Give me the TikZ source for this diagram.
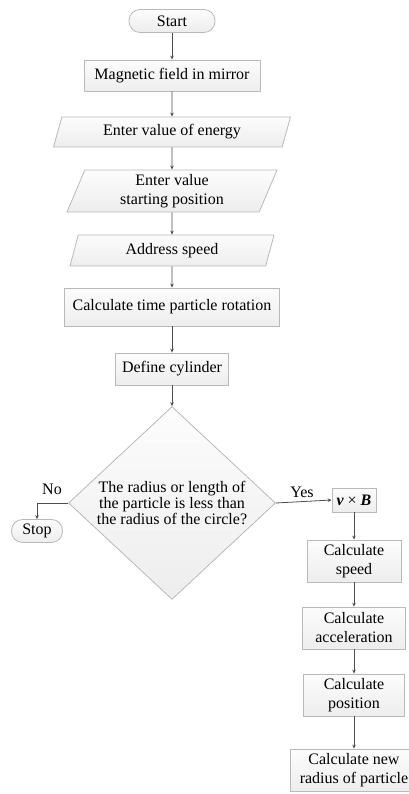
\documentclass[tikz,border=0pt]{standalone}
\usepackage{fontspec}
\setmainfont{Liberation Serif}
\usepackage{tikz}
\usetikzlibrary{shapes,arrows.meta,positioning,calc}

\begin{document}
\begin{tikzpicture}[x=1pt,y=-1pt,
    box/.style={rectangle,draw=gray!55,line width=0.8pt,top color=gray!2,bottom color=gray!14,align=center,inner sep=1pt,font=\fontsize{16}{19}\selectfont},
    term/.style={box,rounded corners=11pt},
    io/.style={box,trapezium,trapezium left angle=63.4,trapezium right angle=116.6,trapezium stretches body},
    cond/.style={box,diamond,inner sep=0pt,font=\fontsize{16}{14.5}\selectfont},
    flow/.style={-{Stealth[length=4pt,width=3.5pt]},line width=0.8pt,draw=gray!60!black},
    lbl/.style={inner sep=0pt,font=\fontsize{16}{19}\selectfont}]
    \useasboundingbox (0,0) rectangle (409,794);

    % Main column
    \node[term,minimum width=86,minimum height=23] (start) at (172,21) {Start};
    \node[box,minimum width=176,minimum height=31] (field) at (172,75.5) {Magnetic field in mirror};
    \node[io,minimum width=237,minimum height=30] (energy) at (172,132) {Enter value of energy};
    \node[io,minimum width=210,minimum height=42] (startpos) at (172,191) {Enter value\\starting position};
    \node[io,minimum width=204,minimum height=31] (speedin) at (172,250.5) {Address speed};
    \node[box,minimum width=215,minimum height=38] (rotation) at (172,307) {Calculate time particle rotation};
    \node[box,minimum width=113,minimum height=32] (cylinder) at (172,369) {Define cylinder};
    \node[cond,minimum width=207,minimum height=180] (check) at (172,503) {The radius or length of\\the particle is less than\\the radius of the circle?};

    % Branches
    \node[term,minimum width=51,minimum height=23] (stop) at (37,531) {Stop};
    \node[box,minimum width=44,minimum height=24] (vxb) at (354,500) {{\bfseries\itshape v} × {\bfseries\itshape B}};
    \node[lbl] (no) at (52,489) {No};
    \node[lbl] (yes) at (302,492) {Yes};

    % Calculation column
    \foreach \name/\y/\w/\txt in {speed/561/94/{Calculate\\speed},accel/628/103/{Calculate\\acceleration},pos/695/101/{Calculate\\position},radius/770/128/{Calculate new\\radius of particle}} {
        \node[box,minimum width=\w,minimum height=42] (\name) at (354,\y) {\txt};
    }

    % Connections
    \foreach \a/\b in {start/field,field/energy,energy/startpos,startpos/speedin,speedin/rotation,rotation/cylinder,cylinder/check,vxb/speed,speed/accel,accel/pos,pos/radius} {
        \draw[flow] (\a) -- (\b);
    }
    \draw[flow] (check.west) -| (stop.north);
    \draw[flow] (check.east) -- (vxb.west);
\end{tikzpicture}
\end{document}
